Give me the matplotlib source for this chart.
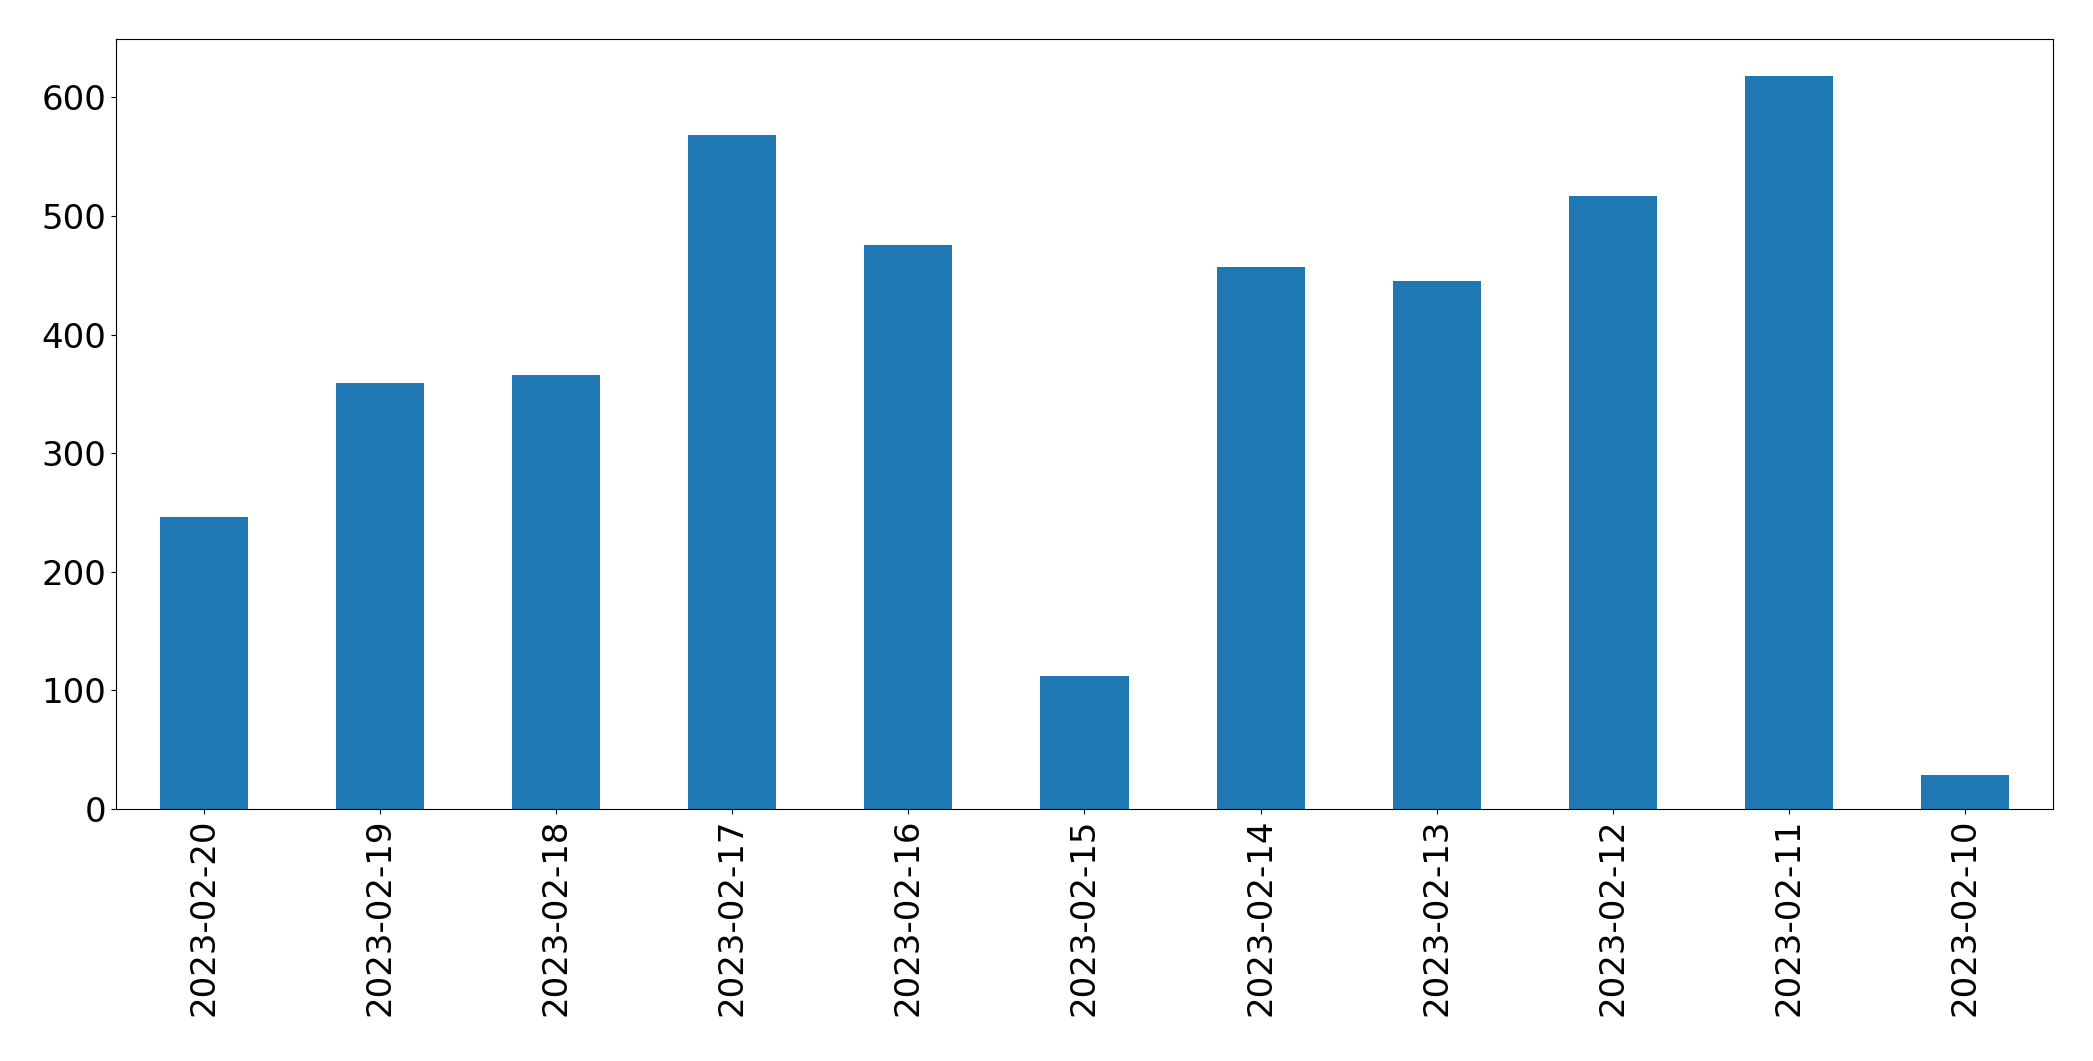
import matplotlib
matplotlib.use("Agg")
import matplotlib.pyplot as plt

# daily counts, newest first
dates = ["2023-02-20", "2023-02-19", "2023-02-18", "2023-02-17", "2023-02-16",
         "2023-02-15", "2023-02-14", "2023-02-13", "2023-02-12", "2023-02-11",
         "2023-02-10"]
counts = [246, 359, 366, 568, 476, 112, 457, 445, 517, 618, 29]

fig = plt.figure(figsize=(20.93, 10.61), dpi=100)
ax = fig.add_axes([0.0554, 0.2375, 0.9255, 0.7253])

pos = list(range(len(dates)))
ax.bar(pos, counts, width=0.5, color="#1f77b4")
ax.set_xlim(-0.5, len(dates) - 0.5)
ax.set_xticks(pos)
ax.set_xticklabels(dates, rotation=90)
ax.tick_params(labelsize=24.5)

fig.savefig("out.png", dpi=100)
